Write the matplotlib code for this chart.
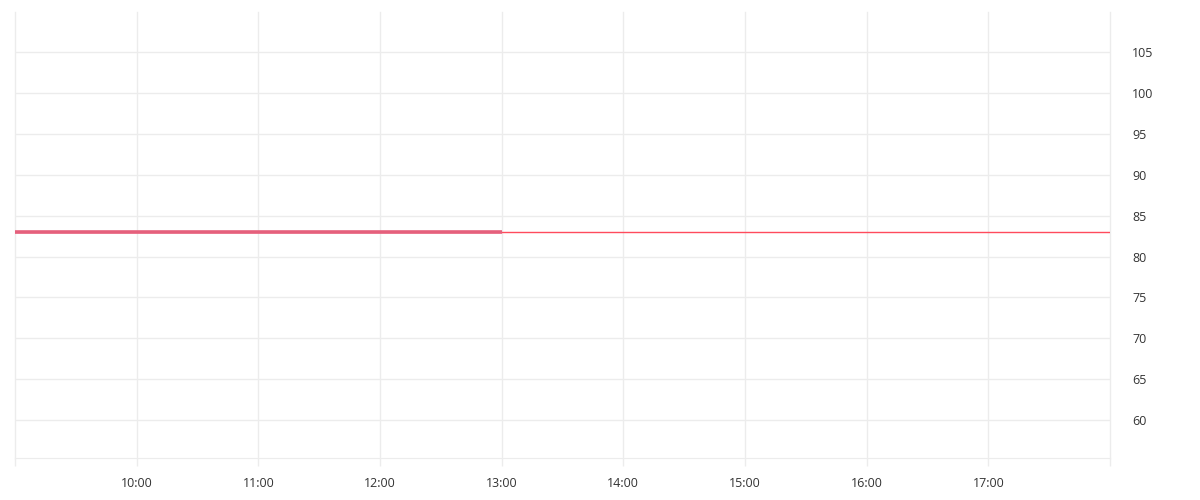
import matplotlib
matplotlib.use('Agg')
import matplotlib.pyplot as plt
import matplotlib.dates as mdates
import datetime as dt

# data
day = dt.datetime(2024, 1, 2)
start = day.replace(hour=9)
end = day.replace(hour=18)
cutoff = day.replace(hour=13)
price = 83.0

x_span = [start, end]          # thin reference line, full width
x_session = [start, cutoff]    # thick part up to 13:00
y_ticks = [60, 65, 70, 75, 80, 85, 90, 95, 100, 105]
x_ticks = [day.replace(hour=h) for h in range(9, 19)]
x_labels = [''] + ['%d:00' % h for h in range(10, 18)] + ['']

plt.rcParams['font.family'] = ['Open Sans', 'DejaVu Sans']

fig = plt.figure(figsize=(12, 5), dpi=100)
ax = fig.add_axes([15/1200, 1 - 458/500, (1110 - 15)/1200, (458 - 12)/500])

ax.plot(x_span, [price, price], color='#ff4b5c', lw=1.0, zorder=3)
ax.plot(x_session, [price, price], color='#e5607c', lw=2.6, zorder=4,
        solid_capstyle='butt')

ax.set_xlim(start, end)
ax.set_ylim(55.37, 109.9)

ax.set_xticks(x_ticks)
ax.set_xticklabels(x_labels)
ax.set_yticks(y_ticks)
ax.yaxis.tick_right()

for tk in x_ticks:
    ax.axvline(tk, color='#ececec', lw=1, zorder=1, clip_on=False)
for v in y_ticks:
    ax.axhline(v, color='#ececec', lw=1, zorder=1)

for s in ax.spines.values():
    s.set_visible(False)
ax.spines['bottom'].set_visible(True)
ax.spines['bottom'].set_color('#ececec')
ax.tick_params(axis='x', length=6, width=1, color='#ececec', direction='out')
ax.tick_params(axis='y', length=0, pad=16)
ax.tick_params(axis='both', labelsize=9, labelcolor='#333333')
ax.tick_params(axis='x', pad=8)

plt.savefig('out.png', dpi=100)
